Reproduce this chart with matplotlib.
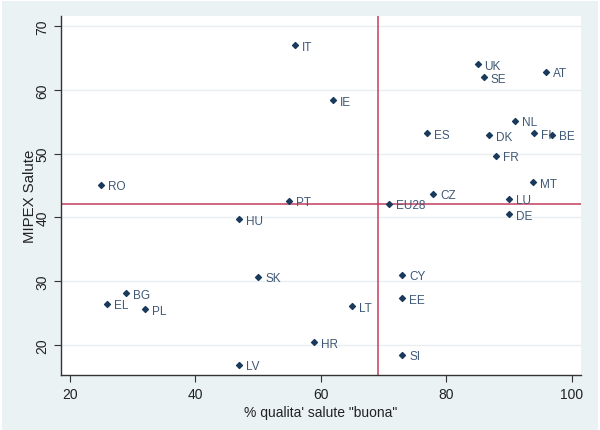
import matplotlib.pyplot as plt
from matplotlib.patches import Rectangle

# data
countries = ["IT", "IE", "UK", "SE", "AT", "NL", "ES", "DK", "FI", "BE",
             "FR", "RO", "MT", "CZ", "LU", "PT", "EU28", "DE", "HU",
             "SK", "CY", "BG", "EL", "EE", "LT", "PL", "HR", "SI", "LV"]
salute_buona = [55.9, 62.0, 85.0, 86.0, 96.0, 91.0, 77.0, 86.9, 94.0, 96.9,
                88.0, 24.9, 93.9, 77.9, 90.0, 55.0, 70.9, 90.0, 46.9,
                50.0, 73.0, 29.0, 25.9, 73.0, 65.0, 31.9, 58.9, 73.0, 46.9]
mipex_salute = [67.0, 58.4, 64.0, 62.0, 62.8, 55.2, 53.2, 52.9, 53.2, 53.0,
                49.7, 45.1, 45.5, 43.7, 42.9, 42.6, 42.1, 40.5, 39.7,
                30.7, 31.0, 28.1, 26.5, 27.3, 26.1, 25.6, 20.4, 18.5, 16.9]
ref_x = 69.1
ref_y = 42.1

plt.rcParams['font.family'] = ['Liberation Sans', 'DejaVu Sans']

fig = plt.figure(figsize=(6, 4.31), dpi=100)
fig.patch.set_facecolor("white")
fig.patches.append(Rectangle((0.004, 0.0), 0.992, 0.995, transform=fig.transFigure,
                             facecolor="#eaf2f3", edgecolor="none", zorder=-10))

ax = fig.add_axes([0.1017, 0.1276, 0.8666, 0.833])
ax.set_facecolor("white")

ax.scatter(salute_buona, mipex_salute, marker="D", s=9, color="#1a3a5c", zorder=3)
for name, x, y in zip(countries, salute_buona, mipex_salute):
    ax.annotate(name, (x, y), xytext=(5, -1), textcoords="offset points",
                va="center", ha="left", fontsize=8.5, color="#3e5875", zorder=4)

ax.axhline(ref_y, color="#c43d5e", linewidth=1.1, zorder=2)
ax.axvline(ref_x, color="#c43d5e", linewidth=1.1, zorder=2)

ax.set_xlim(18.56, 101.5)
ax.set_ylim(15.3, 71.6)
ax.set_xticks([20, 40, 60, 80, 100])
ax.set_yticks([20, 30, 40, 50, 60, 70])
ax.yaxis.grid(True, color="#e9eef0", linewidth=1)
ax.set_axisbelow(True)

for s in ["top", "right"]:
    ax.spines[s].set_visible(False)
for s in ["left", "bottom"]:
    ax.spines[s].set_color("#333333")
    ax.spines[s].set_linewidth(1.0)

ax.tick_params(axis="both", direction="out", length=5, width=0.8, color="#333333",
               labelsize=10, labelcolor="#222222")
plt.setp(ax.get_yticklabels(), rotation=90, va="center")

ax.set_xlabel('% qualita\' salute "buona"', fontsize=10, color="#222222", labelpad=3)
ax.set_ylabel("MIPEX Salute", fontsize=10.8, color="#222222", labelpad=-1)

fig.savefig("out.png", dpi=100)
